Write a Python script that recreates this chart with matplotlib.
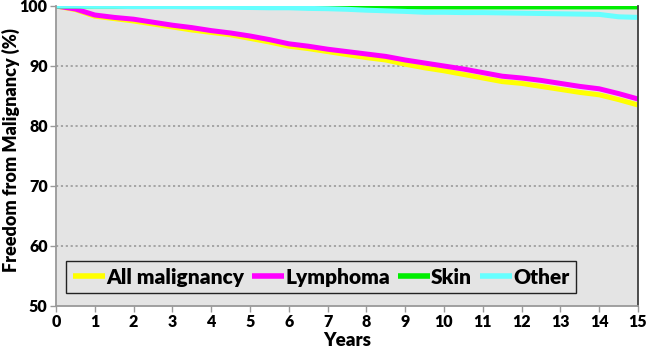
import matplotlib
matplotlib.use("Agg")
import matplotlib.pyplot as plt

years = [0, 0.5, 1, 1.5, 2, 2.5, 3, 3.5, 4, 4.5, 5, 5.5, 6, 6.5, 7, 7.5, 8, 8.5,
         9, 9.5, 10, 10.5, 11, 11.5, 12, 12.5, 13, 13.5, 14, 14.5, 15]

all_malignancy = [100, 99.4, 98.3, 97.9, 97.5, 97.0, 96.5, 96.0, 95.6, 95.2, 94.6,
                  94.0, 93.3, 92.9, 92.4, 91.9, 91.4, 91.0, 90.3, 89.7, 89.2, 88.6,
                  88.0, 87.4, 87.1, 86.6, 86.1, 85.6, 85.2, 84.4, 83.5]
lymphoma = [100, 99.5, 98.5, 98.1, 97.8, 97.3, 96.8, 96.4, 95.9, 95.5, 95.0,
            94.4, 93.7, 93.3, 92.8, 92.4, 92.0, 91.6, 91.0, 90.5, 90.0, 89.5,
            88.9, 88.3, 88.0, 87.6, 87.1, 86.6, 86.2, 85.4, 84.5]
skin = [100, 100, 100, 100, 100, 100, 100, 100, 100, 100, 100, 100, 100, 99.9,
        99.85, 99.85, 99.85, 99.85, 99.85, 99.85, 99.85, 99.85, 99.85, 99.85,
        99.85, 99.85, 99.85, 99.85, 99.85, 99.85, 99.85]
other = [100, 100, 99.95, 99.95, 99.9, 99.9, 99.9, 99.85, 99.85, 99.8, 99.75,
         99.7, 99.7, 99.6, 99.55, 99.45, 99.3, 99.2, 99.1, 98.95, 98.95, 98.9,
         98.9, 98.85, 98.8, 98.75, 98.7, 98.65, 98.6, 98.2, 98.1]

series_names = ["All malignancy", "Lymphoma", "Skin", "Other"]
colors = ["#ffff00", "#ff00ff", "#00ee00", "#66ffff"]

x_ticks = list(range(0, 16))
y_ticks = [50, 60, 70, 80, 90, 100]

plt.rcParams['font.family'] = ['Lato', 'DejaVu Sans']
W = 'heavy'

fig = plt.figure(figsize=(6.46, 3.48), dpi=100)
ax = fig.add_axes([56/646, 42/348, 582/646, 300/348])
bg = "#e4e4e4"
ax.set_facecolor(bg)

for name, vals, c in zip(series_names, [all_malignancy, lymphoma, skin, other], colors):
    ax.plot(years, vals, color=c, lw=3.6, label=name, solid_capstyle='butt')

ax.set_xlim(0, 15)
ax.set_ylim(50, 100)
ax.set_xticks(x_ticks)
ax.set_yticks(y_ticks)
ax.tick_params(axis='both', labelsize=11.5, length=4, width=1, color="#999999", pad=2)
for lab in ax.get_xticklabels() + ax.get_yticklabels():
    lab.set_fontweight(W)

for yv in [60, 70, 80, 90]:
    ax.axhline(yv, color="#a0a0a0", lw=1.3, ls=(0, (1.2, 1.5)), zorder=0.5)

ax.spines['top'].set_visible(False)
ax.spines['left'].set_color("#999999")
ax.spines['bottom'].set_color("#999999")
ax.spines['right'].set_color("#404040")
for s in ax.spines.values():
    s.set_linewidth(1.3)

ax.set_xlabel("Years", fontsize=13.5, fontweight=W, labelpad=1)
ax.set_ylabel("Freedom from Malignancy (%)", fontsize=13, fontweight=W)
ax.yaxis.set_label_coords(-36/582, 0.52)

leg = ax.legend(loc='lower left', bbox_to_anchor=(10/582, 0.042), ncol=4,
                frameon=True, fancybox=False,
                prop={'weight': W, 'size': 15},
                handlelength=1.55, handletextpad=0.05, columnspacing=0.37,
                borderpad=0.33, borderaxespad=0)
leg.get_frame().set_facecolor(bg)
leg.get_frame().set_edgecolor("#222222")
leg.get_frame().set_linewidth(1.0)
leg.get_frame().set_alpha(1)
for h in leg.get_lines():
    h.set_linewidth(4)

fig.savefig("out.png", dpi=100)
